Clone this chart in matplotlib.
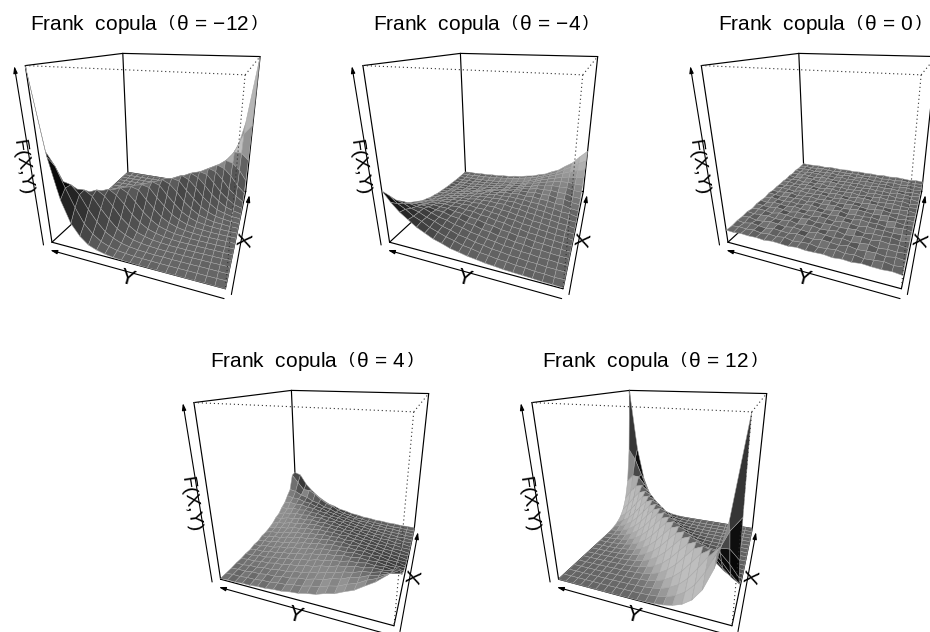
import numpy as np
import matplotlib
matplotlib.use('Agg')
import matplotlib.pyplot as plt
from matplotlib.collections import PolyCollection

plt.rcParams['font.family'] = ['Liberation Sans', 'DejaVu Sans']
plt.rcParams['mathtext.fontset'] = 'custom'
plt.rcParams['mathtext.rm'] = 'Liberation Sans'
plt.rcParams['mathtext.it'] = 'Liberation Sans'
plt.rcParams['mathtext.bf'] = 'Liberation Sans'

# panel titles (theta values) and where the left top box corner sits, in pixels
thetas = [-12, -4, 0, 4, 12]
origins = [(25.7, 65.7), (363.3, 65.7), (701.7, 65.7), (194.3, 402.7), (532.3, 402.7)]

density_m12 = [
    [0, 0, 1, 0, 0, 1, 0, 1, 2, 2, 4, 6, 10, 19, 34, 58, 112, 197, 362, 655, 1195],
    [1, 0, 0, 0, 1, 0, 1, 1, 2, 4, 5, 11, 17, 33, 58, 103, 170, 283, 418, 566, 658],
    [0, 0, 1, 1, 0, 1, 1, 3, 3, 6, 10, 18, 31, 57, 94, 161, 245, 347, 412, 425, 356],
    [0, 1, 0, 0, 1, 1, 3, 3, 6, 10, 18, 30, 56, 93, 155, 229, 312, 352, 348, 277, 203],
    [1, 0, 0, 1, 1, 2, 4, 5, 11, 17, 32, 53, 94, 148, 226, 295, 333, 306, 249, 170, 112],
    [0, 0, 1, 1, 2, 4, 5, 10, 18, 32, 53, 93, 146, 219, 282, 319, 295, 233, 157, 103, 58],
    [1, 0, 0, 2, 3, 5, 11, 17, 32, 53, 93, 145, 217, 279, 311, 282, 226, 151, 97, 55, 35],
    [0, 1, 2, 3, 5, 10, 18, 31, 55, 91, 149, 213, 284, 300, 284, 215, 152, 93, 58, 31, 19],
    [1, 2, 3, 5, 11, 17, 30, 55, 91, 149, 213, 284, 298, 283, 213, 149, 95, 53, 32, 16, 11],
    [2, 3, 5, 10, 18, 30, 54, 91, 149, 213, 283, 305, 277, 217, 146, 93, 55, 30, 18, 9, 6],
    [3, 5, 11, 16, 32, 53, 93, 145, 218, 276, 304, 277, 218, 145, 94, 52, 32, 16, 11, 4, 3],
    [5, 9, 18, 30, 55, 91, 149, 213, 283, 298, 284, 213, 149, 91, 56, 30, 17, 11, 4, 3, 2],
    [11, 16, 32, 53, 95, 146, 217, 277, 306, 276, 218, 145, 93, 52, 32, 16, 10, 5, 3, 1, 2],
    [18, 33, 55, 97, 148, 219, 279, 308, 276, 218, 145, 95, 52, 32, 15, 11, 5, 3, 1, 2, 1],
    [33, 55, 97, 151, 222, 288, 304, 284, 213, 149, 90, 56, 30, 18, 9, 5, 4, 1, 2, 0, 1],
    [59, 103, 157, 233, 296, 318, 282, 219, 146, 94, 53, 30, 18, 9, 5, 3, 2, 2, 0, 1, 0],
    [112, 170, 249, 307, 332, 296, 226, 148, 95, 52, 32, 16, 11, 5, 3, 2, 1, 0, 1, 0, 0],
    [198, 284, 340, 358, 308, 233, 151, 97, 54, 32, 16, 11, 4, 3, 2, 0, 1, 0, 0, 1, 0],
    [362, 418, 420, 340, 249, 157, 97, 54, 33, 15, 11, 4, 3, 2, 0, 1, 0, 1, 0, 0, 1],
    [655, 572, 418, 284, 170, 103, 55, 33, 15, 11, 4, 3, 2, 0, 1, 0, 0, 0, 1, 0, 0],
    [1200, 650, 365, 196, 112, 58, 35, 16, 11, 4, 3, 1, 2, 1, 0, 0, 1, 0, 0, 0, 1],
]
density_m4 = [
    [6, 10, 10, 15, 18, 21, 24, 31, 36, 46, 54, 68, 80, 103, 121, 152, 182, 226, 270, 330, 405],
    [10, 8, 14, 15, 22, 24, 33, 35, 46, 52, 66, 75, 95, 110, 133, 155, 189, 215, 256, 288, 338],
    [12, 14, 15, 22, 23, 31, 34, 45, 50, 63, 72, 88, 100, 122, 138, 164, 183, 211, 228, 256, 270],
    [13, 16, 22, 22, 31, 34, 44, 49, 62, 70, 85, 95, 115, 127, 149, 160, 182, 205, 208, 220, 226],
    [18, 19, 24, 31, 33, 44, 48, 61, 68, 84, 91, 110, 119, 139, 147, 165, 170, 182, 187, 185, 181],
    [20, 26, 29, 36, 41, 52, 57, 70, 77, 93, 101, 119, 126, 142, 146, 160, 161, 166, 160, 159, 152],
    [26, 29, 37, 41, 52, 56, 70, 76, 93, 99, 115, 120, 136, 138, 149, 146, 151, 145, 142, 130, 125],
    [29, 38, 42, 52, 57, 70, 76, 92, 98, 113, 118, 132, 132, 143, 137, 142, 134, 131, 119, 113, 99],
    [38, 42, 52, 58, 71, 76, 92, 97, 112, 117, 129, 129, 138, 130, 135, 125, 124, 111, 105, 90, 83],
    [43, 55, 61, 73, 79, 93, 98, 113, 117, 131, 128, 134, 129, 130, 118, 119, 104, 99, 85, 80, 65],
    [56, 62, 75, 81, 95, 100, 114, 117, 129, 128, 133, 127, 128, 118, 115, 100, 96, 80, 76, 61, 56],
    [64, 80, 83, 99, 104, 118, 117, 130, 128, 134, 128, 130, 116, 115, 98, 94, 78, 74, 60, 56, 43],
    [82, 89, 107, 110, 123, 124, 134, 130, 137, 130, 128, 113, 113, 96, 92, 74, 72, 56, 53, 40, 38],
    [102, 109, 127, 126, 140, 136, 143, 135, 135, 120, 119, 98, 96, 78, 74, 58, 54, 41, 40, 29, 30],
    [124, 128, 146, 146, 153, 148, 148, 132, 125, 104, 99, 82, 76, 60, 57, 42, 40, 29, 29, 20, 24],
    [151, 154, 170, 164, 167, 157, 152, 128, 116, 94, 90, 66, 61, 47, 43, 33, 30, 20, 22, 14, 21],
    [184, 184, 190, 186, 176, 161, 147, 123, 110, 82, 77, 57, 50, 37, 33, 26, 23, 15, 17, 11, 16],
    [225, 216, 212, 198, 180, 162, 144, 116, 95, 71, 64, 45, 38, 29, 26, 19, 18, 11, 13, 9, 12],
    [272, 254, 235, 210, 187, 160, 140, 108, 87, 60, 52, 38, 30, 22, 20, 13, 13, 8, 10, 7, 10],
    [332, 296, 255, 222, 182, 153, 130, 105, 88, 75, 63, 50, 41, 33, 28, 22, 18, 16, 12, 9, 8],
    [400, 338, 270, 228, 180, 153, 120, 103, 80, 69, 53, 47, 35, 32, 23, 22, 15, 15, 9, 10, 6],
]
density_0 = [
    [96, 104, 99, 101, 106, 97, 102, 95, 103, 100, 98, 105, 97, 101, 104, 96, 102, 99, 103, 97, 100],
    [103, 95, 107, 98, 92, 103, 96, 108, 99, 93, 106, 100, 94, 107, 97, 102, 95, 105, 98, 103, 96],
    [98, 106, 94, 104, 101, 96, 109, 97, 102, 107, 95, 101, 108, 96, 100, 106, 93, 100, 107, 95, 102],
    [104, 97, 102, 93, 108, 99, 94, 105, 96, 101, 109, 93, 99, 105, 94, 102, 108, 96, 92, 106, 99],
    [95, 103, 98, 107, 95, 105, 100, 92, 107, 97, 94, 106, 102, 93, 108, 97, 96, 105, 101, 97, 104],
    [101, 93, 105, 99, 102, 91, 106, 101, 95, 104, 100, 96, 109, 99, 95, 103, 107, 93, 102, 104, 94],
    [106, 99, 96, 103, 98, 107, 94, 103, 108, 92, 102, 107, 94, 101, 106, 92, 100, 108, 96, 99, 103],
    [97, 105, 101, 92, 104, 100, 109, 95, 99, 105, 96, 101, 105, 93, 98, 107, 95, 101, 106, 93, 100],
    [102, 96, 108, 100, 94, 106, 97, 101, 93, 107, 101, 92, 98, 107, 102, 94, 104, 97, 100, 108, 95],
    [99, 104, 93, 106, 101, 95, 103, 108, 100, 94, 106, 102, 96, 104, 92, 105, 99, 103, 94, 101, 105],
    [105, 94, 103, 97, 108, 99, 92, 100, 106, 98, 95, 107, 101, 95, 107, 100, 93, 106, 102, 96, 98],
    [96, 107, 100, 94, 97, 104, 105, 94, 97, 103, 108, 93, 100, 106, 98, 96, 107, 92, 99, 105, 101],
    [103, 98, 95, 105, 102, 93, 100, 107, 104, 92, 99, 105, 94, 99, 103, 108, 95, 101, 106, 94, 99],
    [100, 93, 106, 101, 96, 108, 95, 99, 94, 106, 101, 96, 107, 103, 93, 100, 105, 98, 93, 107, 102],
    [94, 105, 99, 96, 107, 97, 103, 92, 108, 100, 93, 104, 99, 92, 106, 97, 101, 94, 104, 100, 96],
    [107, 97, 102, 108, 93, 101, 96, 106, 99, 95, 107, 98, 102, 108, 96, 93, 104, 106, 97, 92, 103],
    [98, 102, 94, 99, 105, 100, 107, 97, 93, 104, 97, 101, 93, 100, 105, 107, 92, 99, 108, 101, 95],
    [101, 95, 107, 103, 92, 106, 98, 102, 107, 96, 103, 94, 108, 97, 99, 94, 103, 107, 95, 98, 104],
    [97, 104, 98, 94, 103, 96, 101, 94, 100, 108, 92, 106, 99, 95, 104, 101, 97, 93, 106, 102, 97],
    [103, 99, 101, 106, 97, 102, 95, 105, 98, 96, 104, 100, 97, 102, 95, 99, 106, 100, 96, 103, 99],
    [99, 102, 96, 100, 104, 98, 103, 97, 101, 99, 102, 97, 103, 98, 101, 104, 97, 102, 99, 98, 101],
]
density_4 = [
    [402, 330, 270, 226, 180, 152, 120, 104, 80, 69, 53, 47, 35, 32, 23, 22, 15, 15, 9, 10, 6],
    [336, 296, 250, 222, 183, 160, 129, 114, 90, 80, 62, 56, 42, 38, 28, 27, 18, 18, 11, 13, 7],
    [270, 256, 228, 212, 182, 166, 137, 125, 100, 90, 71, 65, 49, 46, 33, 33, 22, 22, 14, 15, 9],
    [228, 214, 211, 191, 183, 159, 149, 125, 116, 93, 86, 67, 63, 46, 45, 31, 32, 20, 22, 12, 15],
    [180, 190, 182, 184, 168, 166, 146, 140, 118, 111, 90, 85, 66, 62, 47, 45, 32, 32, 21, 22, 15],
    [153, 153, 166, 159, 166, 153, 153, 135, 132, 112, 107, 87, 83, 64, 62, 46, 45, 31, 33, 21, 22],
    [120, 136, 137, 150, 145, 153, 142, 145, 129, 127, 108, 105, 86, 82, 64, 62, 46, 46, 31, 34, 21],
    [104, 108, 125, 125, 140, 135, 145, 135, 139, 124, 124, 106, 104, 85, 82, 64, 63, 46, 47, 32, 34],
    [79, 97, 100, 117, 117, 132, 129, 139, 131, 136, 122, 123, 106, 104, 86, 83, 65, 64, 47, 48, 33],
    [70, 74, 90, 94, 111, 112, 127, 124, 136, 128, 134, 121, 123, 106, 105, 87, 85, 67, 66, 49, 49],
    [52, 67, 70, 86, 90, 106, 108, 124, 122, 134, 127, 134, 122, 124, 108, 107, 89, 87, 69, 68, 51],
    [48, 50, 66, 67, 85, 87, 105, 106, 123, 121, 133, 128, 136, 124, 127, 112, 111, 92, 90, 73, 63],
    [33, 45, 47, 64, 65, 83, 86, 104, 106, 122, 123, 136, 131, 139, 129, 132, 117, 117, 99, 96, 78],
    [32, 34, 47, 47, 63, 64, 82, 85, 104, 106, 124, 124, 139, 135, 145, 135, 140, 125, 125, 107, 105],
    [21, 33, 32, 46, 46, 62, 64, 82, 86, 105, 108, 129, 129, 145, 142, 153, 145, 150, 136, 136, 119],
    [22, 21, 33, 32, 45, 46, 62, 64, 83, 87, 107, 112, 132, 135, 153, 153, 166, 159, 167, 152, 155],
    [15, 22, 21, 32, 32, 45, 47, 62, 66, 85, 90, 111, 117, 140, 146, 166, 168, 184, 182, 190, 180],
    [15, 12, 22, 20, 32, 31, 45, 46, 63, 67, 86, 93, 115, 125, 149, 159, 183, 191, 211, 214, 228],
    [9, 15, 14, 22, 22, 33, 33, 49, 49, 65, 71, 90, 100, 125, 137, 166, 182, 212, 228, 258, 270],
    [10, 7, 13, 12, 18, 18, 27, 28, 42, 44, 62, 72, 96, 130, 150, 185, 230, 262, 262, 330, 400],
    [6, 10, 9, 15, 15, 22, 23, 32, 35, 47, 53, 70, 80, 104, 120, 152, 190, 240, 300, 390, 410],
]
density_12 = [
    [1200, 660, 360, 200, 110, 60, 33, 18, 10, 5, 3, 2, 1, 1, 0, 0, 0, 0, 0, 0, 0],
    [660, 569, 422, 280, 172, 101, 57, 32, 17, 10, 5, 3, 2, 1, 0, 0, 0, 0, 0, 0, 0],
    [360, 422, 416, 344, 247, 159, 95, 56, 31, 17, 10, 5, 3, 2, 1, 0, 0, 0, 0, 0, 0],
    [200, 280, 344, 356, 310, 231, 153, 95, 55, 31, 17, 10, 5, 3, 2, 1, 0, 0, 0, 0, 0],
    [110, 172, 247, 310, 329, 298, 224, 150, 93, 54, 31, 17, 10, 5, 3, 2, 1, 0, 0, 0, 0],
    [60, 101, 159, 231, 298, 315, 285, 217, 148, 92, 54, 31, 17, 10, 5, 3, 2, 1, 0, 0, 0],
    [33, 57, 95, 153, 224, 285, 308, 282, 215, 147, 92, 54, 31, 17, 10, 5, 3, 2, 1, 0, 0],
    [18, 32, 56, 95, 150, 217, 282, 304, 280, 215, 147, 92, 54, 31, 17, 10, 5, 3, 2, 1, 0],
    [10, 17, 31, 55, 93, 148, 215, 280, 302, 280, 215, 147, 92, 54, 31, 17, 10, 5, 3, 2, 1],
    [5, 10, 17, 31, 54, 92, 147, 215, 280, 301, 280, 215, 147, 92, 54, 31, 17, 10, 5, 3, 2],
    [3, 5, 10, 17, 31, 54, 92, 147, 215, 280, 300, 280, 215, 147, 92, 54, 31, 17, 10, 5, 3],
    [2, 3, 5, 10, 17, 31, 54, 92, 147, 215, 280, 301, 280, 215, 147, 92, 54, 31, 17, 10, 5],
    [1, 2, 3, 5, 10, 17, 31, 54, 92, 147, 215, 280, 302, 280, 215, 148, 93, 55, 31, 17, 10],
    [0, 1, 2, 3, 5, 10, 17, 31, 54, 92, 147, 215, 280, 304, 282, 217, 150, 95, 56, 32, 18],
    [0, 0, 1, 2, 3, 5, 10, 17, 31, 54, 92, 147, 215, 282, 308, 285, 224, 153, 95, 57, 33],
    [0, 0, 0, 1, 2, 3, 5, 10, 17, 31, 54, 92, 148, 217, 285, 315, 298, 231, 159, 101, 60],
    [0, 0, 0, 0, 1, 2, 3, 5, 10, 17, 31, 54, 93, 150, 224, 298, 329, 310, 247, 172, 110],
    [0, 0, 0, 0, 0, 1, 2, 3, 5, 10, 17, 31, 55, 95, 153, 231, 310, 356, 344, 280, 200],
    [0, 0, 0, 0, 0, 0, 1, 2, 3, 5, 10, 17, 31, 56, 95, 159, 247, 344, 416, 422, 360],
    [0, 0, 0, 0, 0, 0, 0, 1, 2, 3, 5, 10, 17, 32, 57, 101, 172, 280, 422, 569, 660],
    [0, 0, 0, 0, 0, 0, 0, 1, 1, 2, 3, 5, 10, 18, 33, 60, 110, 200, 360, 660, 1200],
]
densities = [density_m12, density_m4, density_0, density_4, density_12]
zmax = 12.0

# camera fitted to the box corners
beta, phi, dist, focal, cx, cy, zscale = -1.2232, -2.7923, 3.7277, 301.82, 136.53, 78.16, -0.9976


def project(x, y, z):
    z = np.asarray(z, float) * zscale
    xr = x * np.cos(beta) + y * np.sin(beta)
    d = -x * np.sin(beta) + y * np.cos(beta)
    yc = z * np.cos(phi) - d * np.sin(phi)
    zc = z * np.sin(phi) + d * np.cos(phi)
    s = focal / (dist - zc)
    return cx + s * xr, cy - s * yc, zc


def box_line(ax, a, b, **kw):
    xa, ya, _ = project(*a)
    xb, yb, _ = project(*b)
    ax.plot([xa, xb], [ya, yb], **kw)


def arrow(ax, a, b):
    xa, ya, _ = project(*a)
    xb, yb, _ = project(*b)
    ax.annotate('', xy=(xb, yb), xytext=(xa, ya),
                arrowprops=dict(arrowstyle='-|>,head_length=0.4,head_width=0.12', lw=0.8, color='black',
                                shrinkA=0, shrinkB=0))


light = np.array([-0.63, 0.63, 0.45])
light = light / np.linalg.norm(light)
solid = dict(color='black', lw=0.85, solid_capstyle='round', zorder=0.5)
dotted = dict(color='#303030', lw=0.8, linestyle=(0, (1, 2.6)), zorder=3)

fig = plt.figure(figsize=(9.3, 6.32), dpi=100)
W, H = 930.0, 632.0

for theta, origin, dens in zip(thetas, origins, densities):
    ox, oy = origin
    left, right, top, bottom = -26, 330, -66, 240
    ax = fig.add_axes([(ox + left) / W, 1 - (oy + bottom) / H, (right - left) / W, (bottom - top) / H])
    ax.set_xlim(left, right)
    ax.set_ylim(bottom, top)
    ax.axis('off')
    ax.patch.set_alpha(0)

    # back of the box
    box_line(ax, (-1, 1, 1), (1, 1, 1), **solid)
    box_line(ax, (1, 1, 1), (1, -1, 1), **solid)
    box_line(ax, (1, 1, 1), (1, 1, -1), **solid)
    box_line(ax, (-1, 1, -1), (1, 1, -1), **solid)
    box_line(ax, (1, 1, -1), (1, -1, -1), **solid)
    box_line(ax, (-1, 1, 1), (-1, 1, -1), **solid)
    box_line(ax, (1, -1, 1), (1, -1, -1), **solid)
    box_line(ax, (-1, -1, -1), (1, -1, -1), **solid)
    box_line(ax, (-1, -1, -1), (-1, 1, -1), **solid)

    # surface
    Z = np.array(dens) / 100.0 / zmax * 2 - 1
    n = Z.shape[0]
    g = np.linspace(-1, 1, n)
    X, Y = np.meshgrid(g, g, indexing='ij')
    sx, sy, sz = project(X, Y, Z)
    polys, greys, depth = [], [], []
    for i in range(n - 1):
        for j in range(n - 1):
            polys.append([(sx[i, j], sy[i, j]), (sx[i + 1, j], sy[i + 1, j]),
                          (sx[i + 1, j + 1], sy[i + 1, j + 1]), (sx[i, j + 1], sy[i, j + 1])])
            v1 = np.array([X[i + 1, j + 1] - X[i, j], Y[i + 1, j + 1] - Y[i, j], Z[i + 1, j + 1] - Z[i, j]])
            v2 = np.array([X[i, j + 1] - X[i + 1, j], Y[i, j + 1] - Y[i + 1, j], Z[i, j + 1] - Z[i + 1, j]])
            nrm = np.cross(v1, v2)
            nrm = nrm / np.linalg.norm(nrm)
            if nrm[2] < 0:
                nrm = -nrm
            shade = ((1 + nrm @ light) / 2) ** 2
            greys.append(0.75 * shade)
            depth.append(sz[i:i + 2, j:j + 2].mean())
    order = np.argsort(depth)
    cols = [(greys[k], greys[k], greys[k]) for k in order]
    pc = PolyCollection([polys[k] for k in order], facecolors=cols, edgecolors='#a4a4a4', linewidths=0.35, zorder=1)
    ax.add_collection(pc)

    # front of the box
    box_line(ax, (-1, 1, 1), (-1, -1, 1), **dotted)
    box_line(ax, (-1, -1, 1), (1, -1, 1), **dotted)
    box_line(ax, (-1, -1, 1), (-1, -1, -1), **dotted)

    # axis arrows and names
    arrow(ax, (-1.044, -1, -1.078), (-1.044, 1, -1.078))
    arrow(ax, (-1, -1.06, -1.05), (1, -1.06, -1.05))
    arrow(ax, (-1.073, 1.059, -1), (-1.073, 1.059, 1))
    ax.text(-4, 102, 'F(X,Y)', rotation=-81, fontsize=14, ha='center', va='center')
    ax.text(101, 213, 'Y', rotation=-15, fontsize=16, ha='center', va='center')
    ax.text(221, 174, 'X', rotation=79, fontsize=15, ha='center', va='center')

    value = r'{-}%d' % abs(theta) if theta < 0 else '%d' % theta
    ax.text(118, -41, r'Frank  copula  $\left(\,\theta\,=\,%s\,\right)$' % value,
            fontsize=15, ha='center', va='center')

fig.savefig('out.png', dpi=100)
